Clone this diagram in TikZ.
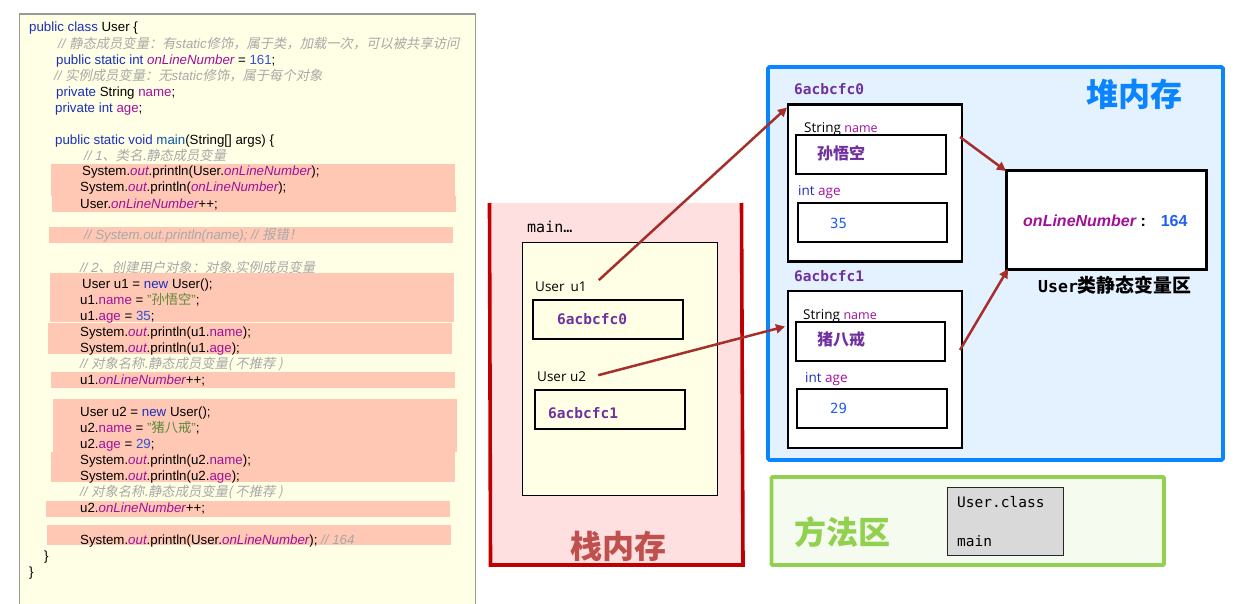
\documentclass[tikz,border=0pt]{standalone}
\usepackage{fontspec}
\usetikzlibrary{arrows.meta}
\setmainfont{Liberation Sans}
\newfontfamily\cjk{Noto Sans CJK SC}
\newfontfamily\cjki[FakeSlant=0.2]{Noto Sans CJK SC}
\newfontfamily\monof{DejaVu Sans Mono}
\newfontfamily\labf{Open Sans}
\definecolor{kwc}{HTML}{1A2FC0}
\definecolor{fldc}{HTML}{A0109A}
\definecolor{numc}{HTML}{3050D8}
\definecolor{cmc}{HTML}{A8A8A8}
\definecolor{strc}{HTML}{5E8A3A}
\definecolor{mainc}{HTML}{0A55A8}
\definecolor{purp}{HTML}{7030A0}
\definecolor{heapb}{HTML}{0A84FF}
\definecolor{valb}{HTML}{2060F0}
\definecolor{stackr}{HTML}{C00000}
\definecolor{stackt}{HTML}{C0504D}
\definecolor{methg}{HTML}{92D050}
\definecolor{arrowc}{HTML}{A52F2B}
\newcommand\kw[1]{\textcolor{kwc}{#1}}
\newcommand\fl[1]{\textcolor{fldc}{#1}}
\newcommand\fs[1]{\textcolor{fldc}{\itshape #1}}
\newcommand\ot{\textcolor{fldc}{\itshape out}}
\newcommand\nm[1]{\textcolor{numc}{#1}}
\newcommand\cm[1]{\textcolor{cmc}{\itshape #1}}
\newcommand\zh[1]{{\cjki #1}}
\newcommand\st[1]{\textcolor{strc}{"{\cjk #1}"}}
\tikzset{
  code/.style={anchor=base west,inner sep=0pt,font=\fontsize{13.3}{16}\selectfont,text=black},
  hl/.style={fill=hlc,draw=none},
  mono/.style={inner sep=0pt,font=\monof\fontsize{14.5}{17}\selectfont,text=black},
  addr/.style={anchor=base west,inner sep=0pt,font=\monof\bfseries\fontsize{14.5}{17}\selectfont,text=purp},
  lab/.style={anchor=base west,inner sep=0pt,font=\labf\fontsize{13.5}{16}\selectfont,text=black},
  cell/.style={draw=black,line width=1.8pt,fill=white,outer sep=0pt},
  objbox/.style={draw=black,line width=2.4pt,fill=white,outer sep=0pt},
  stackcell/.style={draw=black,line width=1.8pt,fill=stackin,outer sep=0pt},
  big/.style={inner sep=0pt,font=\cjk\bfseries\fontsize{32}{36}\selectfont},
  val/.style={anchor=base west,inner sep=0pt,font=\cjk\bfseries\fontsize{16}{18}\selectfont,text=purp},
  num/.style={anchor=base west,inner sep=0pt,font=\monof\fontsize{14}{16}\selectfont,text=valb},
  ptr/.style={draw=arrowc,line width=2.5pt,-{Triangle[length=9pt,width=9pt]}}
}
\definecolor{hlc}{HTML}{FFC8B4}
\definecolor{stackin}{HTML}{FFFFE5}
\begin{document}
\begin{tikzpicture}[x=1pt,y=-1pt]
\useasboundingbox (0,0) rectangle (1242,604);
% code panel
\fill[stackin] (19.5,14) rectangle (475.5,604);
\draw[draw=black!40,line width=1.2pt] (19.5,604) -- (19.5,14) -- (475.5,14) -- (475.5,604);
\fill[hl] (51,164) rectangle (455,196);
\fill[hl] (52,196) rectangle (456,212);
\fill[hl] (49,227) rectangle (453,243);
\fill[hl] (50,273) rectangle (454,322);
\fill[hl] (48,323) rectangle (452,354);
\fill[hl] (51,372) rectangle (455,388);
\fill[hl] (53,399) rectangle (457,452);
\fill[hl] (51,452) rectangle (455,482);
\fill[hl] (46,501) rectangle (450,517);
\fill[hl] (47,525) rectangle (451,545);
\node[code] (l1) at (29,32) {\kw{public class} User \{};
\node[code] (l2) at (58,49) {\cm{// \zh{静态成员变量：有}static\zh{修饰，属于类，加载一次，可以被共享访问}}};
\node[code] (l3) at (56,65) {\kw{public static int} \fs{onLineNumber} = \nm{161};};
\node[code] (l4) at (54,81) {\cm{// \zh{实例成员变量：无}static\zh{修饰，属于每个对象}}};
\node[code] (l5) at (56,97) {\kw{private} String \fl{name};};
\node[code] (l6) at (55,113) {\kw{private int} \fl{age};};
\node[code] (l7) at (55,145) {\kw{public static void} \textcolor{mainc}{main}(String[] args) \{};
\node[code] (l8) at (84,161) {\cm{// 1\zh{、类名.静态成员变量}}};
\node[code] (l9) at (82,176) {System.\ot.println(User.\fs{onLineNumber});};
\node[code] (l10) at (80,192) {System.\ot.println(\fs{onLineNumber});};
\node[code] (l11) at (80,208) {User.\fs{onLineNumber}++;};
\node[code] (l12) at (84,240) {\cm{// System.out.println(name); // \zh{报错！}}};
\node[code] (l13) at (80,272) {\cm{// 2\zh{、创建用户对象：对象.实例成员变量}}};
\node[code] (l14) at (82,288) {User u1 = \kw{new} User();};
\node[code] (l15) at (80,304) {u1.\fl{name} = \st{孙悟空};};
\node[code] (l16) at (80,320) {u1.\fl{age} = \nm{35};};
\node[code] (l17) at (80,336) {System.\ot.println(u1.\fl{name});};
\node[code] (l18) at (80,352) {System.\ot.println(u1.\fl{age});};
\node[code] (l19) at (80,368) {\cm{// \zh{对象名称.静态成员变量( 不推荐 )}}};
\node[code] (l20) at (80,384) {u1.\fs{onLineNumber}++;};
\node[code] (l21) at (80,416) {User u2 = \kw{new} User();};
\node[code] (l22) at (80,432) {u2.\fl{name} = \st{猪八戒};};
\node[code] (l23) at (80,448) {u2.\fl{age} = \nm{29};};
\node[code] (l24) at (80,464) {System.\ot.println(u2.\fl{name});};
\node[code] (l25) at (80,480) {System.\ot.println(u2.\fl{age});};
\node[code] (l26) at (80,496) {\cm{// \zh{对象名称.静态成员变量( 不推荐 )}}};
\node[code] (l27) at (80,512) {u2.\fs{onLineNumber}++;};
\node[code] (l28) at (80,544) {System.\ot.println(User.\fs{onLineNumber}); \cm{// 164}};
\node[code] (l29) at (44,560) {\}};
\node[code] (l30) at (29,576) {\}};
% stack
\fill[fill=red!12] (489.5,203) rectangle (742,565);
\draw[stackr,line width=3.6pt] (489.5,203) -- (490.5,565) -- (743,565) -- (741.5,203);
\node[anchor=base west,inner sep=0pt,font=\monof\fontsize{15}{17}\selectfont] (mainlbl) at (527,233) {main…};
\node[draw=black,line width=1pt,fill=stackin,outer sep=0pt,minimum width=194.5pt,minimum height=253pt,anchor=north west,inner sep=0pt] (frame) at (522.5,242) {};
\node[lab] (u1lbl) at (535,291) {User\hspace{6pt}u1};
\node[stackcell,minimum width=150pt,minimum height=39pt,anchor=north west,inner sep=0pt] (u1box) at (533,300) {};
\node[addr] (u1val) at (557,324) {6acbcfc0};
\node[lab] (u2lbl) at (537,381) {User u2};
\node[stackcell,minimum width=150pt,minimum height=39pt,anchor=north west,inner sep=0pt] (u2box) at (535,390) {};
\node[addr] (u2val) at (548,418) {6acbcfc1};
\node[big,text=stackt] (stacktitle) at (618,546) {栈内存};
% heap
\draw[draw=heapb,fill=heapb!11,line width=3.8pt,rounded corners=1.5pt] (768,67) rectangle (1223,460);
\node[big,text=heapb] (heaptitle) at (1134,94) {堆内存};
\node[addr] (addr0) at (794,95) {6acbcfc0};
\node[objbox,minimum width=174pt,minimum height=157pt,anchor=north west,inner sep=0pt] (obj0) at (788,104.5) {};
\node[lab] (name0lbl) at (804,133) {String \textcolor{fldc}{\fontsize{12.5}{14}\selectfont name}};
\node[cell,minimum width=150pt,minimum height=39pt,anchor=north west,inner sep=0pt] (name0) at (796,135) {};
\node[val] (name0val) at (817,160) {孙悟空};
\node[lab] (age0lbl) at (798,196) {\textcolor{kwc}{int} \textcolor{fldc}{age}};
\node[cell,minimum width=149pt,minimum height=39pt,anchor=north west,inner sep=0pt] (age0) at (798,203) {};
\node[num] (age0val) at (830,229) {35};
\node[addr] (addr1) at (794,281) {6acbcfc1};
\node[objbox,minimum width=174pt,minimum height=157pt,anchor=north west,inner sep=0pt] (obj1) at (788,291) {};
\node[lab] (name1lbl) at (803,319) {String \textcolor{fldc}{\fontsize{12.5}{14}\selectfont name}};
\node[cell,minimum width=149pt,minimum height=39pt,anchor=north west,inner sep=0pt] (name1) at (796,322) {};
\node[val] (name1val) at (817,345) {猪八戒};
\node[lab] (age1lbl) at (805,382) {\textcolor{kwc}{int} \textcolor{fldc}{age}};
\node[cell,minimum width=150pt,minimum height=39pt,anchor=north west,inner sep=0pt] (age1) at (797,389) {};
\node[num] (age1val) at (830,413) {29};
\node[draw=black,line width=3pt,fill=white,outer sep=0pt,minimum width=200pt,minimum height=98pt,anchor=north west,inner sep=0pt] (stat) at (1006,171) {};
\node[anchor=base west,inner sep=0pt,font=\bfseries\fontsize{16}{18}\selectfont] (statval) at (1023,226) {\textcolor{fldc}{\itshape onLineNumber} :\hspace{9pt} \textcolor{valb}{164}};
\node[anchor=base west,inner sep=0pt,font=\monof\bfseries\fontsize{16.5}{19}\selectfont] (statlbl) at (1038,292) {User{\cjk\bfseries\fontsize{18.9}{19}\selectfont 类静态变量区}};
% method area
\draw[draw=methg,fill=methg!9,line width=3.6pt,rounded corners=1pt] (771.5,477) rectangle (1164,565);
\node[big,text=methg] (methtitle) at (842.5,532) {方法区};
\node[draw=black!85,line width=1pt,fill=black!15,outer sep=0pt,minimum width=116pt,minimum height=68pt,anchor=north west,inner sep=0pt] (classbox) at (947,487) {};
\node[mono,anchor=base west] (cls) at (957,507) {User.class};
\node[mono,anchor=base west] (mn) at (957,546) {main};
% pointers
\draw[ptr] ([xshift=12pt,yshift=1pt]u1lbl.north east) -- ([xshift=-1pt,yshift=-3pt]obj0.north west);
\draw[ptr] ([xshift=12pt,yshift=1pt]u2lbl.east) -- ([xshift=-3pt,yshift=43pt]obj1.west);
\draw[ptr] ([xshift=-2pt,yshift=46pt]obj0.east) -- (stat.north west);
\draw[ptr] ([xshift=-2pt,yshift=19.5pt]obj1.east) -- ([xshift=2pt]stat.south west);
\end{tikzpicture}
\end{document}
